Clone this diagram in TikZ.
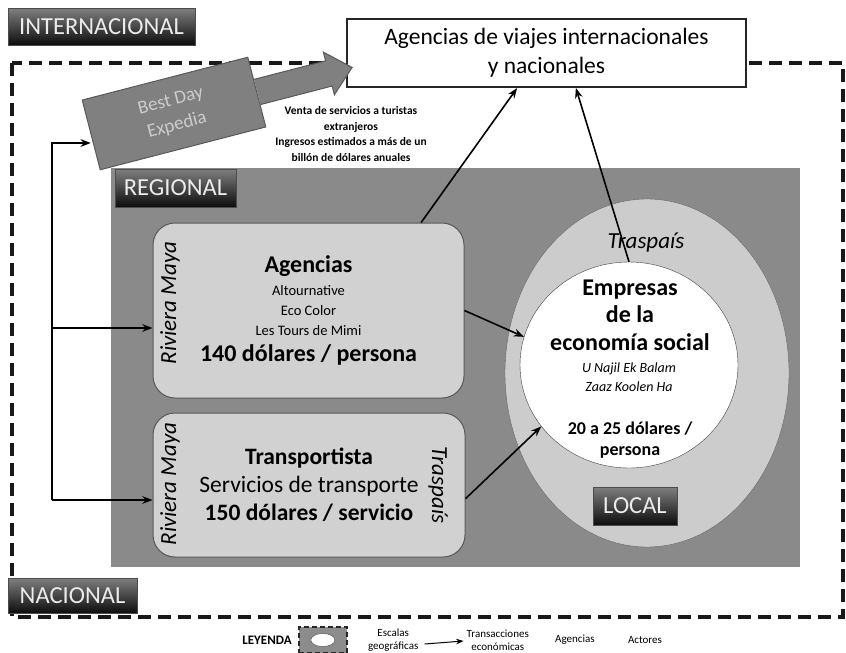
\documentclass[tikz,border=0pt]{standalone}
\usepackage{fontspec}
\setmainfont{Carlito}
\usetikzlibrary{arrows.meta,positioning,shapes.geometric}

\begin{document}
\begin{tikzpicture}[x=1pt, y=-1pt, >=Stealth,
  every node/.style={inner sep=0pt, align=center},
  tag/.style={draw=black!70, top color=black!50, bottom color=black!95, text=black!8, font=\fontsize{24.5}{24.5}\selectfont, minimum height=37pt},
  box/.style={draw=black!65, line width=1pt, fill=black!18, rounded corners=22pt, minimum width=311pt},
  side/.style={font=\fontsize{23}{23}\selectfont\itshape},
  flow/.style={->, line width=1.6pt},
  border/.style={line width=4pt, dash pattern=on 13pt off 7pt, draw=black!90},
  legend/.style={font=\fontsize{11}{13}\selectfont}]
\useasboundingbox (0,0) rectangle (846,653);
\draw[border] (12,63) rectangle (843,617);

\node[fill=black!46, minimum width=689pt, minimum height=399pt] (region) at (455.5,367.5) {};
\node[ellipse, draw=black!60, fill=black!20, minimum width=284pt, minimum height=348pt] (traspais) at (647,373) {};
\node[ellipse, draw=black!75, fill=white, minimum width=218pt, minimum height=206pt] (social) at (629,365) {};

\node[box, minimum height=175pt, font=\fontsize{14.5}{20}\selectfont] (agen) at (308.5,310.5) {{\fontsize{24}{24}\selectfont\bfseries Agencias}\\[3pt] Altournative\\ Eco Color\\ Les Tours de Mimi\\[6pt] {\fontsize{24}{24}\selectfont\bfseries 140 dólares / persona}};
\node[box, minimum width=312pt, minimum height=144pt, font=\fontsize{23.5}{28}\selectfont] (trans) at (309,485) {\textbf{Transportista}\\ Servicios de transporte\\ \textbf{150 dólares / servicio}};
\node[side, rotate=90] (rm1) at (170,303) {Riviera Maya};
\node[side, rotate=90] (rm2) at (170,484) {Riviera Maya};
\node[side, rotate=-90] (tp2) at (438,485) {Traspaís};
\node[side] (tp1) at (646,243) {Traspaís};

\node[font=\fontsize{24}{27.5}\selectfont\bfseries] (emp) at (630,315) {Empresas\\de la\\economía social};
\node[font=\fontsize{14}{19}\selectfont\itshape] (socios) at (629,377) {U Najil Ek Balam\\Zaaz Koolen Ha};
\node[font=\fontsize{18}{21}\selectfont\bfseries] (precio) at (630,440) {20 a 25 dólares /\\persona};

\node[draw=black!85, line width=2pt, fill=white, minimum width=399pt, minimum height=68pt, font=\fontsize{23.5}{29}\selectfont] (viajes) at (546.5,53) {Agencias de viajes internacionales\\y nacionales};

\node[draw=black!65, fill=black!50, line width=1pt, rotate=14.5, minimum width=171pt, minimum height=72pt, text=black!20, font=\fontsize{19}{25}\selectfont] (bestday) at (174,113.5) {Best Day\\Expedia};
\filldraw[black!50, draw=black!65, line width=1pt, shift={(bestday.center)}, rotate=14.5] (86,-13) -- (160,-13) -- (160,-22) -- (184,0) -- (160,22) -- (160,13) -- (86,13);
\node[font=\fontsize{11.5}{15.5}\selectfont\bfseries] (venta) at (351,134) {Venta de servicios a turistas\\extranjeros\\Ingresos estimados a más de un\\billón de dólares anuales};

\node[tag, minimum width=187pt] (intl) at (101.5,26.5) {INTERNACIONAL};
\node[tag, minimum width=121pt, minimum height=38pt] (reg) at (175.5,188) {REGIONAL};
\node[tag, minimum width=84pt, minimum height=38pt] (local) at (635,506) {LOCAL};
\node[tag, minimum width=129pt, minimum height=35pt] (nac) at (72.5,595.5) {NACIONAL};

\coordinate (ltop) at (52,143);
\coordinate (lmid) at (52,328);
\coordinate (lbot) at (52,500);
\draw[flow] (lbot) -- (ltop) -- (ltop -| bestday.west);
\draw[flow] (lmid) -- (lmid -| agen.west);
\draw[flow] (lbot) -- (lbot -| trans.west);
\draw[flow] (agen.38) -- (viajes.230);
\draw[flow] (social.north) -- (viajes.310);
\draw[flow] (agen.east) -- (social.165);
\draw[flow] (trans.-5) -- (social.215);

\node[font=\fontsize{13}{13}\selectfont\bfseries] (ley) at (267,640) {LEYENDA};
\node[draw=black!85, line width=2pt, dash pattern=on 5pt off 3pt, fill=black!45, minimum width=48pt, minimum height=26pt, right=6pt of ley] (icon) {};
\node[ellipse, draw=black!70, fill=white, minimum width=24pt, minimum height=13pt] (iconin) at (icon) {};
\node[legend, right=20pt of icon] (esc) {Escalas\\geográficas};
\node[legend, right=48pt of esc] (trx) {Transacciones\\económicas};
\node[legend, right=26pt of trx] (agl) {Agencias};
\node[legend, right=33pt of agl] (act) {Actores};
\draw[->, line width=1pt] ([shift={(6pt,-4pt)}]esc.east) -- ([shift={(-3pt,-1pt)}]trx.west);
\end{tikzpicture}
\end{document}
